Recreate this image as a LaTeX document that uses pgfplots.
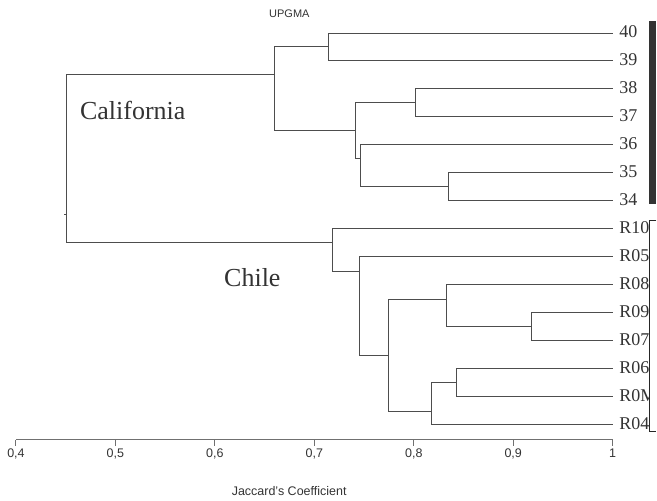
\documentclass[border=0pt]{standalone}
\usepackage{pgfplots}
\pgfplotsset{compat=1.18}
\usepackage{fontspec}
\setmainfont{Liberation Sans}
\newfontfamily\seriffont{Liberation Serif}
\definecolor{dline}{HTML}{4D4D4D}
\definecolor{dtext}{HTML}{333333}
\definecolor{axgray}{HTML}{707070}
\definecolor{barcol}{HTML}{333333}
\tikzset{
  dl/.style={color=dline, line width=0.9pt, mark=none},
  leaf/.style={overlay, anchor=base west, inner sep=0pt, xshift=6.5pt, text=dtext, font=\seriffont\fontsize{18}{20}\selectfont},
}
\begin{document}
\begin{tikzpicture}
\begin{axis}[
  width=597.3pt, height=440pt, scale only axis,
  xmin=0.4, xmax=1.0, ymin=61, ymax=501,
  axis x line=bottom, axis y line=none,
  axis line style={-, axgray, line width=1.3pt},
  xtick={0.4,0.5,0.6,0.7,0.8,0.9,1},
  xtick align=outside, major tick length=6pt,
  x tick style={axgray, line width=1pt},
  /pgf/number format/use comma,
  /pgf/number format/assume math mode=true,
  xticklabel style={font=\fontsize{12.5}{14}\selectfont, text=dtext},
  clip=false,
]
% invisible frame: full picture extent
\path (axis cs:0.383928,0) rectangle (axis cs:1.04390,501);

% California cluster
\addplot[dl] coordinates {(1,468) (0.714,468) (0.714,440) (1,440)};
\addplot[dl] coordinates {(1,412) (0.802,412) (0.802,384) (1,384)};
\addplot[dl] coordinates {(1,328) (0.835,328) (0.835,300) (1,300)};
\addplot[dl] coordinates {(1,356) (0.7463,356) (0.7463,314) (0.835,314)};
\addplot[dl] coordinates {(0.802,398) (0.7418,398) (0.7418,342) (0.7463,342)};
\addplot[dl] coordinates {(0.714,454) (0.6595,454) (0.6595,370) (0.7418,370)};

% root
\addplot[dl] coordinates {(0.6595,426) (0.4509,426) (0.4509,258.3) (0.7187,258.3)};
\addplot[dl] coordinates {(0.4487,286) (0.4509,286)};

% Chile cluster
\addplot[dl] coordinates {(1,272) (0.7187,272) (0.7187,229.7) (0.7449,229.7)};
\addplot[dl] coordinates {(1,244) (0.7449,244) (0.7449,145.3) (0.7747,145.3)};
\addplot[dl] coordinates {(0.8326,201.7) (0.7747,201.7) (0.7747,89) (0.8176,89)};
\addplot[dl] coordinates {(1,216) (0.8326,216) (0.8326,174) (0.9186,174)};
\addplot[dl] coordinates {(1,188) (0.9186,188) (0.9186,160) (1,160)};
\addplot[dl] coordinates {(0.8433,118) (0.8176,118) (0.8176,76) (1,76)};
\addplot[dl] coordinates {(1,132) (0.8433,132) (0.8433,104) (1,104)};

% leaf labels
\node[leaf] at (axis cs:1,463.5) {40};
\node[leaf] at (axis cs:1,435.5) {39};
\node[leaf] at (axis cs:1,407.5) {38};
\node[leaf] at (axis cs:1,379.5) {37};
\node[leaf] at (axis cs:1,351.5) {36};
\node[leaf] at (axis cs:1,323.5) {35};
\node[leaf] at (axis cs:1,295.5) {34};
\node[leaf] at (axis cs:1,267.5) {R10};
\node[leaf] at (axis cs:1,239.5) {R05};
\node[leaf] at (axis cs:1,211.5) {R08};
\node[leaf] at (axis cs:1,183.5) {R09};
\node[leaf] at (axis cs:1,155.5) {R07};
\node[leaf] at (axis cs:1,127.5) {R06};
\node[leaf] at (axis cs:1,99.5) {R0M};
\node[leaf] at (axis cs:1,71.5) {R04};

% mask and bracket on the right
\fill[white] (axis cs:1.0376,281) rectangle (axis cs:1.04390,62);
\draw[color=black!85, line width=1.4pt] (axis cs:1.04390,280) -- (axis cs:1.0372,280) -- (axis cs:1.0372,69) -- (axis cs:1.04390,69);
\fill[barcol] (axis cs:1.0369,480.3) rectangle (axis cs:1.04390,297);

% group labels
\node[anchor=base west, inner sep=0pt, text=dtext, font=\seriffont\fontsize{26}{28}\selectfont] at (axis cs:0.4643,381.7) {California};
\node[anchor=base west, inner sep=0pt, text=dtext, font=\seriffont\fontsize{26}{28}\selectfont] at (axis cs:0.6092,213.7) {Chile};

% titles
\node[anchor=base, inner sep=0pt, text=dtext, font=\fontsize{11}{13}\selectfont] at (axis cs:0.6749,483.7) {UPGMA};
\node[anchor=base, inner sep=0pt, text=dtext, font=\fontsize{12.5}{14}\selectfont] at (axis cs:0.6747,4.5) {Jaccard's Coefficient};
\end{axis}
\end{tikzpicture}
\end{document}
